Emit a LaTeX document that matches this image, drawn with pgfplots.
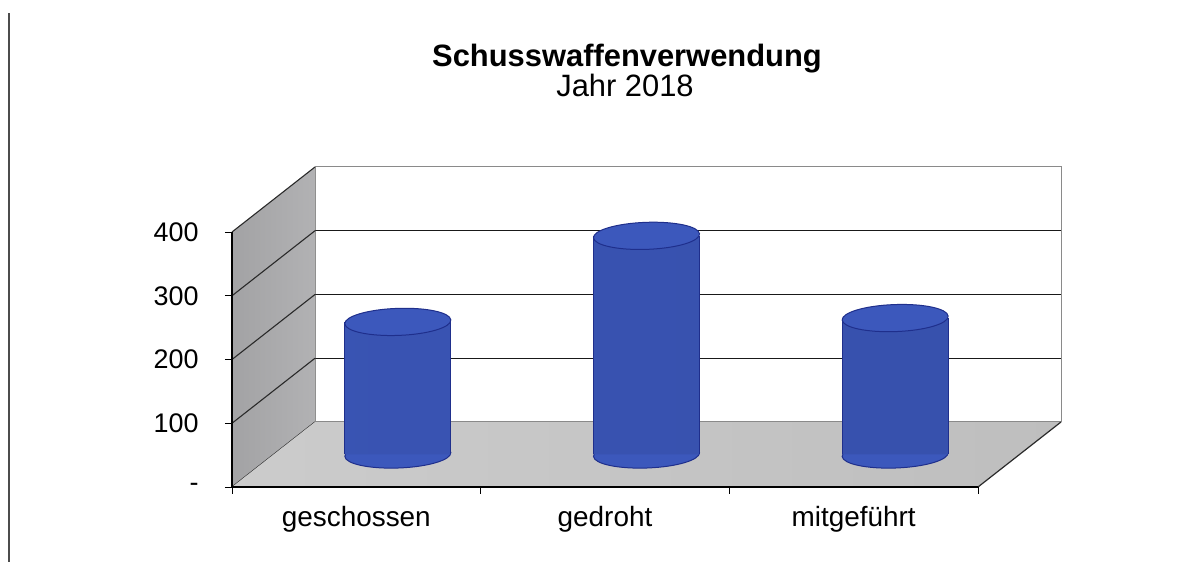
\documentclass[border=0pt]{standalone}
\usepackage{pgfplots}
\pgfplotsset{compat=1.18}
\usepackage{fontspec}
\setmainfont{Liberation Sans}
\definecolor{cyl}{HTML}{3C58BC}
\definecolor{cylL}{HTML}{4868CC}
\definecolor{cylD}{HTML}{1F2F8C}
\definecolor{wallS}{HTML}{ABABAD}
\definecolor{floorC}{HTML}{C6C6C6}
\definecolor{edge}{HTML}{2A2A2A}
\definecolor{edgeL}{HTML}{8A8A8A}
\pgfdeclareplotmark{cylcap}{\pgfpathellipse{\pgfpointorigin}{\pgfqpoint{53bp}{2bp}}{\pgfqpoint{-1bp}{13.5bp}}\pgfusepathqfillstroke}
\begin{document}
\begin{tikzpicture}
\begin{axis}[
  scale only axis, width=829bp, height=320bp,
  xmin=-0.6669, xmax=2.6669, ymin=-51, ymax=451,
  clip=false, clip mode=individual,
  axis line style={draw=none},
  /pgf/number format/assume math mode=true,
  ytick={-51,49,149,249,349}, yticklabels={-,100,200,300,400},
  ytick pos=left, tick align=outside, major tick length=7bp,
  ytick style={black, line width=0.8bp},
  xtick={-0.1669,0.8331,1.8331}, xticklabels={geschossen,gedroht,mitgeführt},
  xtick style={draw=none},
  yticklabel style={font=\fontsize{27}{31}\selectfont, xshift=-23bp},
  xticklabel style={font=\fontsize{28}{32}\selectfont, yshift=-9bp},
]
% back wall
\addplot[fill=white, draw=edgeL, line width=1bp] coordinates {(-0.3331,51)(2.6669,51)(2.6669,451)(-0.3331,451)(-0.3331,51)};
% back gridlines
\addplot[black!90, line width=1.4bp] coordinates {(-0.3331,151)(2.6669,151)};
\addplot[black!90, line width=1.4bp] coordinates {(-0.3331,251)(2.6669,251)};
\addplot[black!90, line width=1.4bp] coordinates {(-0.3331,351)(2.6669,351)};
% side wall
\addplot[draw=none, left color=wallS!95!black, right color=wallS!92!white] coordinates {(-0.6669,-51)(-0.6669,349)(-0.3331,451)(-0.3331,51)(-0.6669,-51)};
\addplot[edge, line width=1.1bp] coordinates {(-0.6669,-51)(-0.3331,51)};
\addplot[edge, line width=1.1bp] coordinates {(-0.6669,49)(-0.3331,151)};
\addplot[edge, line width=1.1bp] coordinates {(-0.6669,149)(-0.3331,251)};
\addplot[edge, line width=1.1bp] coordinates {(-0.6669,249)(-0.3331,351)};
\addplot[edge, line width=1.1bp] coordinates {(-0.6669,349)(-0.3331,451)};
% floor
\addplot[draw=none, left color=floorC!90!white, right color=floorC!96!black] coordinates {(-0.6669,-51)(2.3331,-51)(2.6669,51)(-0.3331,51)(-0.6669,-51)};
\addplot[edgeL, line width=1bp] coordinates {(-0.3331,51)(2.6669,51)};
\addplot[edge, line width=1.2bp] coordinates {(2.3331,-51)(2.6669,51)};
% front axis lines
\addplot[black, line width=1.2bp] coordinates {(-0.6669,-51)(-0.6669,349)};
\addplot[black, line width=1.2bp] coordinates {(-0.6669,-51)(2.3331,-51)};
\addplot[black, line width=0.8bp] coordinates {(-0.6669,-51)(-0.6669,-62)};
\addplot[black, line width=0.8bp] coordinates {(0.3331,-51)(0.3331,-62)};
\addplot[black, line width=0.8bp] coordinates {(1.3331,-51)(1.3331,-62)};
\addplot[black, line width=0.8bp] coordinates {(2.3331,-51)(2.3331,-62)};
% cylinders: bottom caps
\addplot[only marks, mark=cylcap, mark options={fill=cyl, draw=cylD, line width=1bp}] coordinates {(0,0)(1,0)(2,0)};
% bodies
\addplot[ybar, bar width=106bp, draw=none, left color=cyl!95!black, middle color=cylL, right color=cyl!92!black] coordinates {(0,208)(1,343)(2,214)};
% body outlines
\addplot[cylD, line width=1bp] coordinates {(-0.2131,0)(-0.2131,208)};
\addplot[cylD, line width=1bp] coordinates {(0.2131,0)(0.2131,208)};
\addplot[cylD, line width=1bp] coordinates {(0.7869,0)(0.7869,343)};
\addplot[cylD, line width=1bp] coordinates {(1.2131,0)(1.2131,343)};
\addplot[cylD, line width=1bp] coordinates {(1.7869,0)(1.7869,214)};
\addplot[cylD, line width=1bp] coordinates {(2.2131,0)(2.2131,214)};
% top caps
\addplot[only marks, mark=cylcap, mark options={fill=cyl, draw=cylD, line width=1bp}] coordinates {(0,208)(1,343)(2,214)};
\end{axis}
\node[anchor=base, font=\fontsize{31}{36}\selectfont\bfseries] at (395bp,420bp) {Schusswaffenverwendung};
\node[anchor=base, font=\fontsize{31}{36}\selectfont] at (393bp,390bp) {Jahr 2018};
\draw[gray!60!black, line width=2bp] (-223bp,-75bp) -- (-223bp,474bp);
\pgfresetboundingbox
\path[use as bounding box] (-232bp,-75bp) rectangle (960bp,487bp);
\end{tikzpicture}
\end{document}
